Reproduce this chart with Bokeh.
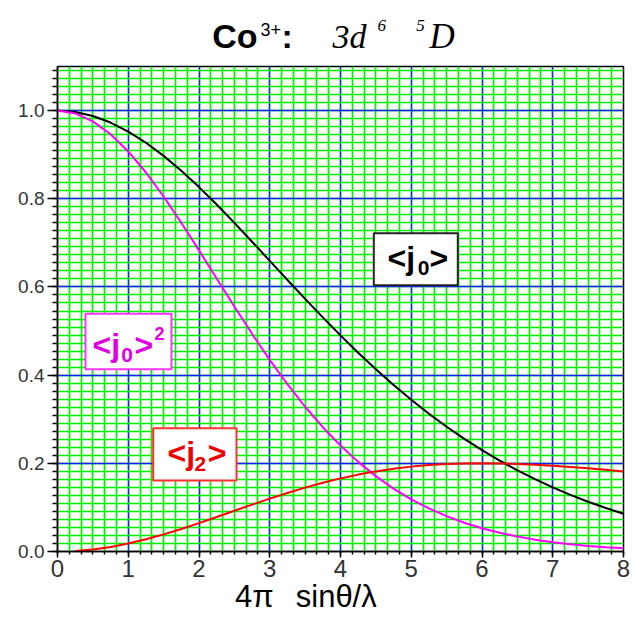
from bokeh.plotting import figure
from bokeh.layouts import column
from bokeh.models import (FixedTicker, Label, BoxAnnotation, Range1d, PrintfTickFormatter,
                          LinearAxis)
from bokeh.embed import file_html
from bokeh.resources import INLINE

# ---- data ----
q = [0.0, 0.25, 0.5, 0.75, 1.0, 1.25, 1.5, 1.75, 2.0, 2.25, 2.5, 2.75, 3.0, 3.25,
     3.5, 3.75, 4.0, 4.25, 4.5, 4.75, 5.0, 5.25, 5.5, 5.75, 6.0, 6.25, 6.5, 6.75,
     7.0, 7.25, 7.5, 7.75, 8.0]
j0 = [1.000, 0.9968, 0.9877, 0.9729, 0.9525, 0.9271, 0.8973, 0.8635, 0.8265, 0.7869,
      0.7454, 0.7026, 0.6593, 0.6159, 0.5730, 0.5310, 0.4902, 0.4509, 0.4134, 0.3778,
      0.3441, 0.3125, 0.2830, 0.2554, 0.2298, 0.2061, 0.1842, 0.1640, 0.1454, 0.1284,
      0.1128, 0.0986, 0.0856]
j0sq = [1.000, 0.9936, 0.9756, 0.9464, 0.9073, 0.8596, 0.8051, 0.7456, 0.6830, 0.6192,
        0.5556, 0.4937, 0.4347, 0.3794, 0.3283, 0.2819, 0.2403, 0.2033, 0.1709, 0.1427,
        0.1184, 0.0977, 0.0801, 0.0652, 0.0528, 0.0425, 0.0339, 0.0269, 0.0212, 0.0165,
        0.0127, 0.0097, 0.0073]
q_j2 = q[1:]
j2 = [0.0012, 0.0047, 0.0104, 0.0181, 0.0277, 0.0388, 0.0512, 0.0644, 0.0783, 0.0923,
      0.1064, 0.1199, 0.1328, 0.1449, 0.1559, 0.1658, 0.1744, 0.1817, 0.1878, 0.1925,
      0.1961, 0.1985, 0.1998, 0.2002, 0.1998, 0.1987, 0.1969, 0.1946, 0.1918, 0.1887,
      0.1852, 0.1816]

x_ticks = [0, 1, 2, 3, 4, 5, 6, 7, 8]
x_tick_labels = ["0", "1", "2", "3", "4", "5", "6", "7", "8"]
y_ticks = [0.0, 0.2, 0.4, 0.6, 0.8, 1.0]
y_tick_labels = ["0.0", "0.2", "0.4", "0.6", "0.8", "1.0"]
x_title_parts = ["4π", "sinθ/λ"]
x_title_pos = [2.782, 3.94]       # horizontal centres of the two parts (x units)

x_minor = [i / 6 for i in range(0, 49)]
y_minor = [i * 0.2 / 11 for i in range(0, 61)]

W = 632
TOP_H = 58          # title strip height
FL, FT, FW, FH = 57, 8, 566, 485
FR = W - FL - FW
FB = 623 - TOP_H - FT - FH
FRAME_TOP = TOP_H + FT
FRAME_BOTTOM = FRAME_TOP + FH
BASE_SHIFT = 0.32   # label anchor sits this many ems above the glyph baseline

# ---- main figure ----
p = figure(frame_width=FW, frame_height=FH, min_border_left=FL, min_border_top=FT,
           min_border_right=FR, min_border_bottom=FB,
           x_range=Range1d(0, 8), y_range=Range1d(0, 1.1),
           output_backend="svg", toolbar_location=None, tools="")
p.title.visible = False
p.background_fill_color = "white"
p.border_fill_color = "white"
p.outline_line_color = "black"
p.outline_line_width = 1.5

xt = FixedTicker(ticks=x_ticks, minor_ticks=x_minor)
yt = FixedTicker(ticks=y_ticks, minor_ticks=y_minor)
p.xaxis.ticker = xt
p.yaxis.ticker = yt
p.xgrid.ticker = xt
p.ygrid.ticker = yt
p.yaxis.formatter = PrintfTickFormatter(format="%.1f")
p.xaxis.major_label_overrides = dict(zip(x_ticks, x_tick_labels))
p.yaxis.major_label_overrides = dict(zip(y_ticks, y_tick_labels))

for g in (p.xgrid, p.ygrid):
    g.grid_line_color = "#1a1aff"
    g.grid_line_width = 1.3
    g.minor_grid_line_color = "#00f000"
    g.minor_grid_line_width = 1.7

for ax in (p.xaxis, p.yaxis):
    ax.axis_line_color = "black"
    ax.axis_line_width = 1.5
    ax.major_tick_line_color = "black"
    ax.minor_tick_line_color = "black"
    ax.major_tick_line_width = 1.5
    ax.minor_tick_line_width = 1.5
    ax.major_tick_in = 0
    ax.minor_tick_in = 0
    ax.major_label_text_font = "Liberation Sans"
    ax.major_label_text_color = "#333333"

p.xaxis.major_tick_out = 6
p.xaxis.minor_tick_out = 3
p.xaxis.major_label_text_font_size = "24px"
p.xaxis.major_label_standoff = 2
p.yaxis.major_tick_out = 10
p.yaxis.minor_tick_out = 5
p.yaxis.major_label_text_font_size = "19px"
p.yaxis.major_label_standoff = 3

# x-axis title: a second, line-less axis below whose two labels form "4π sinθ/λ"
xlab = LinearAxis(ticker=FixedTicker(ticks=x_title_pos, minor_ticks=[]),
                  major_label_overrides=dict(zip(x_title_pos, x_title_parts)),
                  axis_line_color=None, major_tick_line_color=None,
                  minor_tick_line_color=None, major_tick_out=0, major_tick_in=0,
                  minor_tick_out=0, minor_tick_in=0,
                  major_label_standoff=-1,
                  major_label_text_font="Liberation Sans",
                  major_label_text_font_size="31px",
                  major_label_text_color="black")
p.add_layout(xlab, "below")

# ---- curves ----
p.line(q, j0, line_color="black", line_width=2)
p.line(q, j0sq, line_color="#ff00ff", line_width=2)
p.line(q_j2, j2, line_color="#ff0000", line_width=2)

# ---- annotations inside the plot (positions in page pixels) ----
def dx(px):
    return (px - FL) * 8 / FW

def dy(py):
    return (FRAME_BOTTOM - py) * 1.1 / FH

def box(l, t, r, b, color):
    p.add_layout(BoxAnnotation(left=dx(l), right=dx(r), top=dy(t), bottom=dy(b),
                               fill_color="white", fill_alpha=1.0,
                               line_color=color, line_width=2, line_alpha=1.0))

def mk(text, x, y, size, color, style, font):
    return Label(x=x, y=y, text=text, text_font=font,
                 text_font_size=f"{size}px", text_font_style=style,
                 text_color=color, text_align="left", text_baseline="alphabetic")

def txt(text, px, base, size, color="black", style="normal", font="Liberation Sans"):
    p.add_layout(mk(text, dx(px), dy(base - BASE_SHIFT * size), size, color, style, font))

box(373.3, 232.7, 457.3, 284.7, "#222222")
box(85, 313.3, 171, 368.7, "#ff33ff")
box(152.7, 427.7, 236, 480, "#ff3030")

# <j0>
txt("<j", 387, 267.7, 32, "black", "bold")
txt("0", 417.3, 274.7, 21, "black", "bold")
txt(">", 429, 267.7, 32, "black", "bold")
# <j0>^2
txt("<j", 92, 355, 32, "#e000e0", "bold")
txt("0", 120.7, 361.7, 21, "#e000e0", "bold")
txt(">", 134, 355, 32, "#e000e0", "bold")
txt("2", 154, 339, 18, "#e000e0", "bold")
# <j2>
txt("<j", 167, 463.2, 32, "#ee0000", "bold")
txt("2", 194, 470, 21, "#ee0000", "bold")
txt(">", 207.3, 463.2, 32, "#ee0000", "bold")

# ---- title strip (frame aligned with the main frame; data units = page pixels) ----
top = figure(width=W, height=TOP_H, x_range=Range1d(FL, FL + FW), y_range=Range1d(TOP_H, 0),
             min_border_left=FL, min_border_right=FR, min_border_top=0,
             min_border_bottom=0, x_axis_type=None, y_axis_type=None,
             output_backend="svg", toolbar_location=None, tools="")
top.title.visible = False
top.outline_line_color = None
top.background_fill_color = "white"
top.border_fill_color = "white"
top.xgrid.visible = False
top.ygrid.visible = False

def ttl(text, px, base, size, style="normal", font="Liberation Sans"):
    top.add_layout(mk(text, px, base - BASE_SHIFT * size, size, "black", style, font))

ttl("Co", 211.8, 46.7, 34, "bold")
ttl("3+", 260, 35, 18)
ttl(":", 281, 46.7, 34, "bold")
ttl("3d", 332, 47.3, 34, "italic", "Liberation Serif")
ttl("6", 377, 30.7, 17, "italic", "Liberation Serif")
ttl("5", 415.7, 30.7, 17, "italic", "Liberation Serif")
ttl("D", 429, 47.3, 35, "italic", "Liberation Serif")

layout = column(top, p, spacing=0)
open("out.html", "w").write(file_html(layout, INLINE))
